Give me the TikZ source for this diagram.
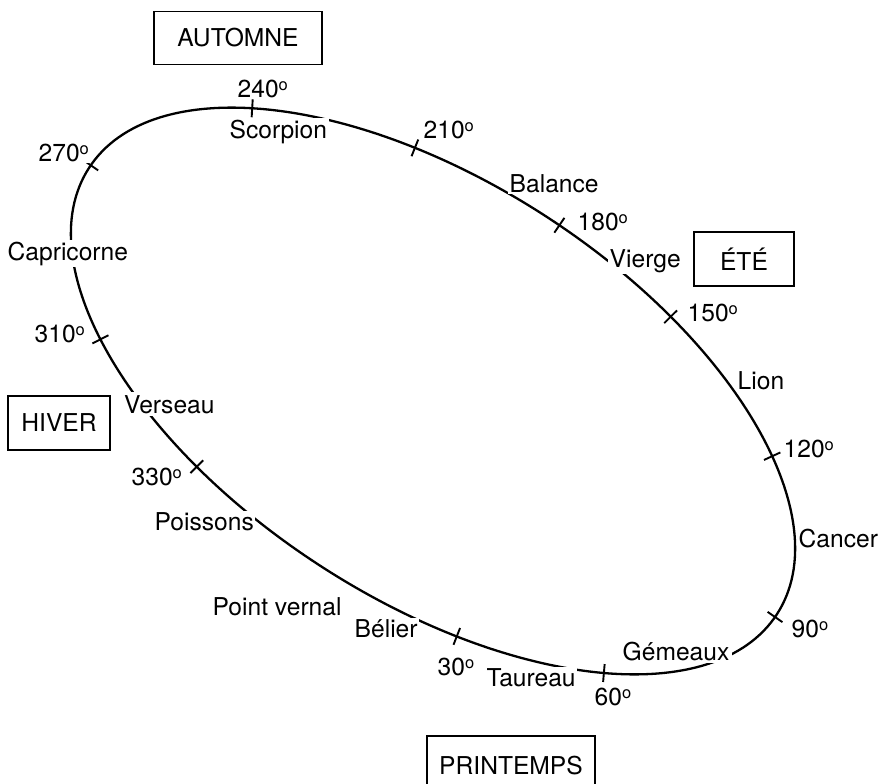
\documentclass[tikz,border=0pt]{standalone}
\usepackage{fontspec}
\setmainfont{TeX Gyre Heros}
\newcommand\dg{\raisebox{7pt}{\fontsize{16.5}{16.5}\selectfont o}}
\begin{document}
\begin{tikzpicture}[x=1pt,y=-1pt,
  lbl/.style={anchor=base west, inner sep=1.5pt, fill=white, font=\fontsize{24.6}{29}\selectfont},
  season/.style={draw, line width=1.8pt, inner sep=0pt, font=\fontsize{24.6}{29}\selectfont},
  curve/.style={line width=2.3pt},
  tickmark/.style={line width=1.9pt}]
\useasboundingbox (0,0) rectangle (878,784);
\clip (0,0) rectangle (878,784);
% ecliptic
\begin{scope}[shift={(433,391)}, rotate=-33]
  \draw[curve] (0,0) ellipse [x radius=410pt, y radius=208pt];
  \foreach \t in {221.8,248.9,272.2,292.8,321.3,0.9,43.6,68,112.5,138.5,180.8} {
    \pgfmathsetmacro\nx{2.08*cos(\t)}
    \pgfmathsetmacro\ny{4.10*sin(\t)}
    \pgfmathsetmacro\nn{sqrt(\nx*\nx+\ny*\ny)}
    \draw[tickmark] ({410*cos(\t)+9*\nx/\nn},{208*sin(\t)+9*\ny/\nn}) --
                    ({410*cos(\t)-9*\nx/\nn},{208*sin(\t)-9*\ny/\nn});
  }
\end{scope}
% seasons
\node[season, minimum width=168pt, minimum height=53pt] (automne) at (238,38) {AUTOMNE};
\node[season, minimum width=100pt, minimum height=54pt] (ete) at (744,259) {ÉTÉ};
\node[season, minimum width=102pt, minimum height=54pt] (hiver) at (59,423) {HIVER};
\node[season, minimum width=168pt, minimum height=59pt] (printemps) at (511,765.5) {PRINTEMPS};
% degrees
\node[lbl] (d240) at (236,97) {240\dg};
\node[lbl] (d270) at (37,161) {270\dg};
\node[lbl] (d210) at (422,138) {210\dg};
\node[lbl] (d180) at (576,230) {180\dg};
\node[lbl] (d150) at (686,321) {150\dg};
\node[lbl] (d310) at (33,342) {310\dg};
\node[lbl] (d120) at (782,457) {120\dg};
\node[lbl] (d330) at (130,485) {330\dg};
\node[lbl] (d90) at (790,637) {90\dg};
\node[lbl] (d30) at (436,675) {30\dg};
\node[lbl] (d60) at (593,705) {60\dg};
% signs
\node[lbl] (scorpion) at (228,138) {Scorpion};
\node[lbl] (capricorne) at (6,260) {Capricorne};
\node[lbl] (balance) at (508,192) {Balance};
\node[lbl] (vierge) at (608,267) {Vierge};
\node[lbl] (lion) at (736,389) {Lion};
\node[lbl, inner sep=3pt] (verseau) at (121,413) {Verseau};
\node[lbl] (poissons) at (153,530) {Poissons};
\node[lbl] (cancer) at (797,547) {Cancer};
\node[lbl] (vernal) at (211,615) {Point vernal};
\node[lbl] (belier) at (353,637) {Bélier};
\node[lbl, inner sep=2.5pt] (gemeaux) at (620,660) {Gémeaux};
\node[lbl] (taureau) at (485,686) {Taureau};
\end{tikzpicture}
\end{document}
